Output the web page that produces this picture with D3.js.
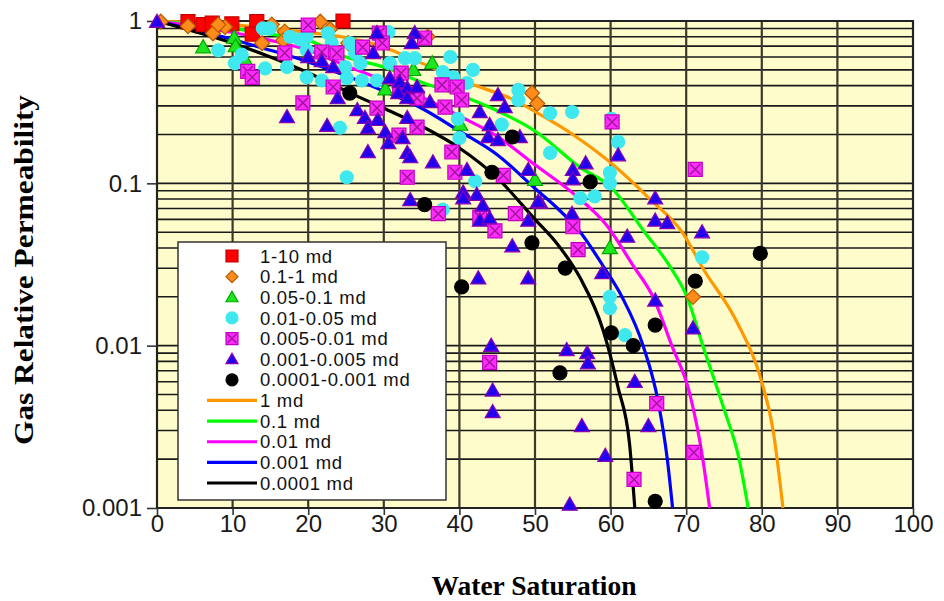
<!DOCTYPE html>
<html>
<head>
<meta charset="utf-8">
<script src="https://cdn.jsdelivr.net/npm/d3@7"></script>
<style>
  body { margin: 0; background: #fff; }
  text { font-family: "Liberation Sans", Arial, sans-serif; }
</style>
</head>
<body>
<div id="chart"></div>
<script>
// Data (Sw in %, krg)

var xTicks = [0, 10, 20, 30, 40, 50, 60, 70, 80, 90, 100];
var yTicks = [0.001, 0.01, 0.1, 1];
var yTickLabels = ["0.001", "0.01", "0.1", "1"];

var seriesNames = ["1-10 md", "0.1-1 md", "0.05-0.1 md", "0.01-0.05 md", "0.005-0.01 md", "0.001-0.005 md", "0.0001-0.001 md"];
var curveNames = ["1 md", "0.1 md", "0.01 md", "0.001 md", "0.0001 md"];

var pts_1_10 = [[4.1,0.99],[6.1,0.95],[7.3,0.97],[9.9,0.96],[13.2,0.99],[12.6,0.83],[24.6,1.0]];
var pts_01_1 = [[0.5,0.99],[4.1,0.93],[7.4,0.84],[9.0,0.92],[8.1,0.95],[15.2,0.95],[16.9,0.86],[13.9,0.73],
  [16.7,0.76],[17.6,0.8],[21.6,0.99],[22.9,0.89],[25.3,0.73],[35.8,0.8],[49.6,0.36],[50.3,0.31],[70.9,0.02]];
var pts_005_01 = [[6.1,0.69],[10.2,0.79],[10.4,0.7],[11.8,0.56],[30.2,0.38],[33.9,0.5],[36.4,0.55],[40.1,0.23],
  [50.0,0.105],[59.9,0.04]];
var pts_001_005 = [[8.1,0.66],[10.3,0.55],[11.2,0.62],[14.3,0.51],[14.0,0.9],[14.9,0.9],[17.2,0.52],[17.6,0.8],
  [18.9,0.77],[19.8,0.8],[19.8,0.66],[19.8,0.45],[21.8,0.43],[22.6,0.84],[23.1,0.73],[24.2,0.22],[24.9,0.52],
  [25.1,0.445],[25.1,0.109],[25.5,0.73],[26.2,0.635],[26.9,0.55],[27.1,0.43],[29.1,0.43],[30.6,0.855],[30.8,0.55],
  [32.8,0.59],[34.1,0.59],[38.8,0.6],[37.8,0.485],[39.2,0.45],[41.0,0.415],[41.8,0.5],[39.8,0.25],[40.0,0.19],
  [45.6,0.23],[47.8,0.376],[47.8,0.326],[52.0,0.27],[54.9,0.275],[52.0,0.154],[42.1,0.103],[37.8,0.069],
  [60.1,0.25],[61.0,0.18],[59.9,0.116],[59.9,0.1],[56.0,0.081],[57.9,0.083],[72.1,0.035],[59.9,0.02],
  [59.9,0.017],[61.9,0.0116]];
var pts_0005_001 = [[20.0,0.945],[16.9,0.635],[12.0,0.49],[12.6,0.45],[19.3,0.313],[21.8,0.644],[23.8,0.635],
  [23.3,0.392],[27.2,0.69],[29.4,0.843],[29.8,0.732],[35.4,0.786],[32.3,0.478],[32.1,0.376],[34.4,0.335],
  [37.7,0.404],[39.7,0.392],[40.3,0.326],[38.1,0.295],[29.1,0.291],[34.4,0.222],[32.0,0.198],[39.0,0.156],
  [39.4,0.117],[33.1,0.109],[37.2,0.065],[45.8,0.112],[44.7,0.051],[42.7,0.062],[47.4,0.065],[60.2,0.239],
  [71.2,0.122],[55.0,0.054],[55.7,0.039],[44.0,0.0079],[66.1,0.0044],[71.0,0.0022],[63.1,0.0015]];
var pts_0001_0005 = [[0,0.99],[20.0,0.6],[21.8,0.567],[23.3,0.521],[23.9,0.335],[17.2,0.256],[22.5,0.226],
  [29.1,0.843],[34.1,0.843],[33.7,0.732],[28.6,0.635],[30.8,0.445],[32.1,0.421],[33.1,0.387],[34.4,0.392],
  [31.9,0.36],[33.1,0.335],[36.1,0.317],[26.5,0.283],[27.5,0.253],[29.2,0.246],[27.9,0.219],[30.2,0.207],
  [33.1,0.253],[32.5,0.19],[30.6,0.177],[33.1,0.154],[33.5,0.145],[27.9,0.156],[36.5,0.135],[41.0,0.121],
  [42.7,0.275],[45.1,0.35],[46.0,0.295],[44.0,0.229],[43.8,0.193],[45.1,0.185],[48.0,0.193],[49.1,0.121],
  [55.0,0.121],[55.0,0.106],[56.7,0.133],[61.0,0.149],[65.9,0.081],[65.9,0.059],[67.5,0.057],[72.1,0.05],
  [62.2,0.047],[54.9,0.065],[50.7,0.076],[42.3,0.085],[43.1,0.073],[42.7,0.059],[44.0,0.061],[49.1,0.059],
  [50.4,0.077],[47.0,0.041],[42.5,0.026],[49.1,0.026],[58.9,0.028],[65.9,0.019],[70.9,0.0128],[44.2,0.01],
  [54.2,0.0094],[56.9,0.009],[57.0,0.0078],[63.2,0.006],[44.4,0.0053],[44.4,0.0039],[56.2,0.0032],[65.0,0.0032],
  [59.3,0.0021],[54.6,0.00105],[33.5,0.079],[40.5,0.088],[40.5,0.081]];
var pts_00001_0001 = [[25.5,0.36],[47.0,0.193],[44.3,0.117],[57.3,0.102],[35.4,0.074],[49.6,0.043],[54.0,0.03],
  [79.8,0.037],[71.2,0.025],[40.3,0.023],[65.9,0.0134],[60.1,0.012],[63.0,0.01],[53.3,0.0068],[65.9,0.0011]];

var curve_1 = [[0,1],[5,0.98],[10,0.95],[15,0.9],[20,0.85],[25,0.79],[30,0.69],[35,0.55],[41.5,0.41],[47,0.33],
  [51,0.26],[55,0.2],[59.5,0.14],[65.2,0.08],[69.6,0.049],[72.2,0.03],[76.7,0.014],[79.8,0.0064],[81.5,0.003],[82.8,0.001]];
var curve_01 = [[0,1],[5,0.95],[10,0.9],[15,0.83],[20,0.76],[25,0.6],[30,0.52],[35,0.42],[40,0.35],[45,0.28],
  [50,0.21],[56,0.125],[60,0.095],[64.5,0.05],[67.8,0.031],[70.1,0.02],[72.2,0.01],[74.9,0.0042],[77,0.002],[78.2,0.001]];
var curve_001 = [[0,1],[5,0.93],[10,0.85],[15,0.76],[20,0.66],[25,0.53],[30,0.43],[35,0.34],[40,0.26],[45,0.195],
  [50,0.13],[55,0.087],[59.5,0.055],[63,0.031],[65.6,0.02],[68.1,0.01],[70.5,0.005],[72.2,0.002],[73.1,0.001]];
var curve_0001 = [[0,1],[5,0.88],[10,0.77],[15,0.66],[20,0.56],[25,0.46],[30,0.37],[35,0.29],[40,0.21],[45,0.15],
  [50,0.093],[53,0.07],[56,0.05],[59,0.031],[61.5,0.02],[64.3,0.01],[66.3,0.0045],[67.5,0.002],[68.2,0.001]];
var curve_00001 = [[0,1],[5,0.86],[10,0.73],[15,0.6],[20,0.48],[25,0.37],[30,0.29],[35,0.225],[40,0.165],[45,0.108],
  [50,0.06],[53,0.042],[56,0.026],[59,0.0125],[61,0.0055],[62.5,0.0025],[63.2,0.001]];

// styles

var pointSets = [pts_1_10, pts_01_1, pts_005_01, pts_001_005, pts_0005_001, pts_0001_0005, pts_00001_0001];
var markerStyle = [
  {shape: "square",   fill: "#ff0000", stroke: "#c40000", size: 7},
  {shape: "diamond",  fill: "#ff8c1a", stroke: "#b85a00", size: 7.5},
  {shape: "triangle", fill: "#1ee61e", stroke: "#00a800", size: 7.5},
  {shape: "circle",   fill: "#3ee8ee", stroke: "#3ee8ee", size: 6.5},
  {shape: "xsquare",  fill: "#ff2bff", stroke: "#c000c0", size: 7},
  {shape: "triangle", fill: "#2200ee", stroke: "#8a00b0", size: 7.5},
  {shape: "circle",   fill: "#000000", stroke: "#000000", size: 7}
];
var curveSets = [curve_1, curve_01, curve_001, curve_0001, curve_00001];
var curveColors = ["#ff9900", "#00ff00", "#ff00ff", "#0000ff", "#000000"];

var svgWidth = 944, svgHeight = 601;
var plot = {left: 157, right: 913, top: 21, bottom: 508};

var svg = d3.select("#chart")
  .append("svg")
    .attr("width", svgWidth)
    .attr("height", svgHeight);

var x = d3.scaleLinear().domain([0, 100]).range([plot.left, plot.right]);
var y = d3.scaleLog().domain([0.001, 1]).range([plot.bottom, plot.top]);

function shapePath(shape, s) {
  if (shape === "square" || shape === "xsquare")
    return `M${-s},${-s}H${s}V${s}H${-s}Z`;
  if (shape === "diamond")
    return `M0,${-s}L${s},0L0,${s}L${-s},0Z`;
  if (shape === "triangle")
    return `M0,${-s}L${s},${s * 0.75}L${-s},${s * 0.75}Z`;
  return `M${-s},0A${s},${s} 0 1,0 ${s},0A${s},${s} 0 1,0 ${-s},0Z`;
}

function drawMarker(g, st, s) {
  g.append("path")
    .attr("d", shapePath(st.shape, s))
    .attr("fill", st.fill)
    .attr("stroke", st.stroke)
    .attr("stroke-width", 1.2);
  if (st.shape === "xsquare") {
    var k = s * 0.75;
    g.append("path")
      .attr("d", `M${-k},${-k}L${k},${k}M${k},${-k}L${-k},${k}`)
      .attr("stroke", "#a0189a")
      .attr("stroke-width", 1.5);
  }
}

// background + grid
svg.append("rect")
  .attr("x", plot.left).attr("y", plot.top)
  .attr("width", plot.right - plot.left).attr("height", plot.bottom - plot.top)
  .attr("fill", "#fffccc");

svg.append("g").selectAll("line")
  .data(y.ticks())
  .enter().append("line")
    .attr("x1", plot.left).attr("x2", plot.right)
    .attr("y1", d => y(d)).attr("y2", d => y(d))
    .attr("stroke", "#1a1a1a")
    .attr("stroke-width", 1.6);

svg.append("g").selectAll("line")
  .data(xTicks)
  .enter().append("line")
    .attr("x1", d => x(d)).attr("x2", d => x(d))
    .attr("y1", plot.top).attr("y2", plot.bottom)
    .attr("stroke", "#3a3a2a")
    .attr("stroke-width", 2.2);

svg.append("rect")
  .attr("x", plot.left).attr("y", plot.top)
  .attr("width", plot.right - plot.left).attr("height", plot.bottom - plot.top)
  .attr("fill", "none")
  .attr("stroke", "#222")
  .attr("stroke-width", 2);

// axes
var yAxis = svg.append("g")
  .attr("transform", `translate(${plot.left},0)`)
  .call(d3.axisLeft(y).tickValues(yTicks).tickFormat((d, i) => yTickLabels[i]).tickSize(10).tickPadding(5));
var xAxis = svg.append("g")
  .attr("transform", `translate(0,${plot.bottom})`)
  .call(d3.axisBottom(x).tickValues(xTicks).tickFormat(d3.format("d")).tickSize(7).tickPadding(0));

[yAxis, xAxis].forEach(function(a) {
  a.select(".domain").remove();
  a.selectAll(".tick line").attr("stroke", "#333").attr("stroke-width", 1.6);
  a.selectAll(".tick text")
    .attr("fill", "#1a1a1a")
    .style("font-family", '"Liberation Sans", Arial, sans-serif')
    .style("font-size", "24px");
});

// curves
var line = d3.line()
  .x(d => x(d[0]))
  .y(d => y(d[1]))
  .curve(d3.curveMonotoneX);

svg.append("g").selectAll("path")
  .data(curveSets)
  .enter().append("path")
    .attr("d", line)
    .attr("fill", "none")
    .attr("stroke", (d, i) => curveColors[i])
    .attr("stroke-width", 3.2);

// scatter
pointSets.forEach(function(pts, i) {
  var g = svg.append("g");
  g.selectAll("g")
    .data(pts)
    .enter().append("g")
      .attr("transform", d => `translate(${x(d[0])},${y(d[1])})`)
      .each(function() { drawMarker(d3.select(this), markerStyle[i], markerStyle[i].size); });
});

// legend
var legend = svg.append("g");
legend.append("rect")
  .attr("x", 178).attr("y", 242)
  .attr("width", 268).attr("height", 258)
  .attr("fill", "#fff")
  .attr("stroke", "#333")
  .attr("stroke-width", 1.5);

var rowY = d3.scaleLinear().domain([0, 11]).range([256, 483]);

seriesNames.forEach(function(name, i) {
  var row = legend.append("g").attr("transform", `translate(232,${rowY(i)})`);
  drawMarker(row, markerStyle[i], 6);
  legend.append("text")
    .attr("x", 260).attr("y", rowY(i))
    .attr("dy", "0.36em")
    .style("font-size", "18.5px")
    .style("letter-spacing", "0.7px")
    .attr("fill", "#111")
    .text(name);
});

curveNames.forEach(function(name, j) {
  var yy = rowY(j + 7);
  legend.append("line")
    .attr("x1", 207).attr("x2", 257)
    .attr("y1", yy).attr("y2", yy)
    .attr("stroke", curveColors[j])
    .attr("stroke-width", 3.2);
  legend.append("text")
    .attr("x", 260).attr("y", yy)
    .attr("dy", "0.36em")
    .style("font-size", "18.5px")
    .style("letter-spacing", "0.7px")
    .attr("fill", "#111")
    .text(name);
});

// titles
svg.append("text")
  .attr("transform", "translate(33,270) rotate(-90)")
  .attr("text-anchor", "middle")
  .attr("textLength", 350)
  .attr("lengthAdjust", "spacingAndGlyphs")
  .style("font-family", '"Liberation Serif", "Times New Roman", serif')
  .style("font-weight", "bold")
  .style("font-size", "27px")
  .attr("fill", "#000")
  .text("Gas Relative Permeability");

svg.append("text")
  .attr("x", 534).attr("y", 595)
  .attr("text-anchor", "middle")
  .attr("textLength", 205)
  .attr("lengthAdjust", "spacingAndGlyphs")
  .style("font-family", '"Liberation Serif", "Times New Roman", serif')
  .style("font-weight", "bold")
  .style("font-size", "27px")
  .attr("fill", "#000")
  .text("Water Saturation");
</script>
</body>
</html>
